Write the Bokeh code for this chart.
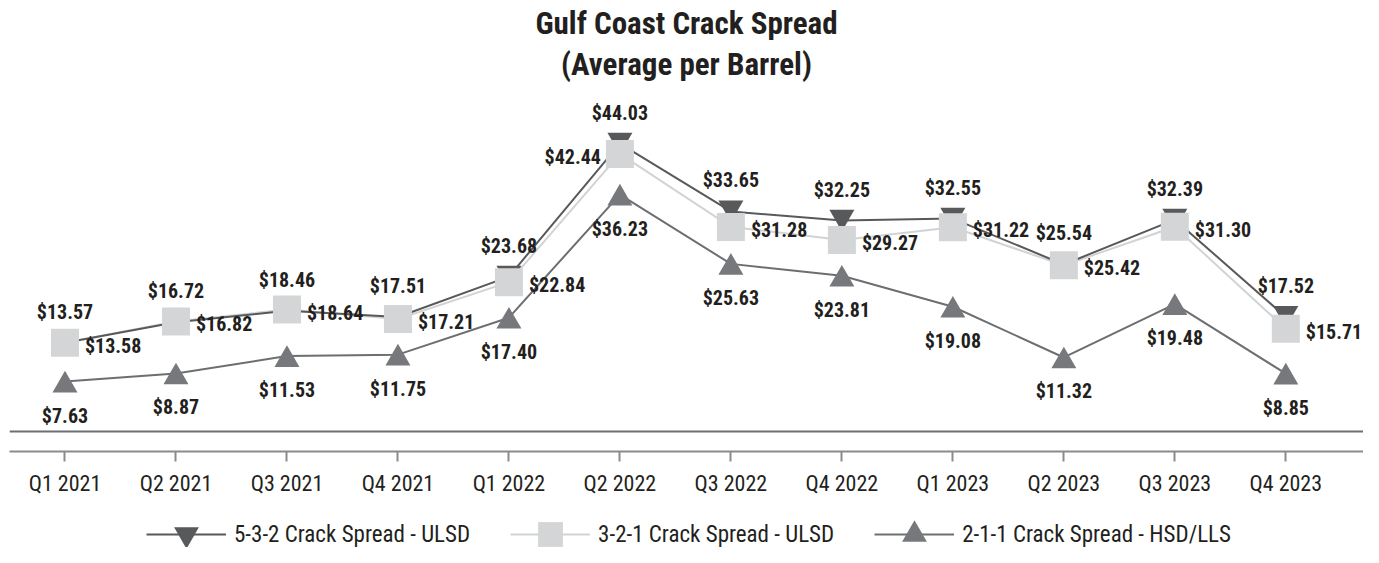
from bokeh.plotting import figure
from bokeh.layouts import column
from bokeh.models import (ColumnDataSource, Range1d, Span, Title, Legend, FixedTicker,
                          LegendItem, CDSView, IndexFilter)
from bokeh.core.properties import value
from bokeh.transform import dodge
from bokeh.embed import file_html
from bokeh.resources import INLINE

quarters = ["Q1 2021", "Q2 2021", "Q3 2021", "Q4 2021", "Q1 2022", "Q2 2022",
            "Q3 2022", "Q4 2022", "Q1 2023", "Q2 2023", "Q3 2023", "Q4 2023"]
crack_532 = [13.57, 16.72, 18.46, 17.51, 23.68, 44.03, 33.65, 32.25, 32.55, 25.54, 32.39, 17.52]
crack_321 = [13.58, 16.82, 18.64, 17.21, 22.84, 42.44, 31.28, 29.27, 31.22, 25.42, 31.30, 15.71]
crack_211 = [7.63, 8.87, 11.53, 11.75, 17.40, 36.23, 25.63, 23.81, 19.08, 11.32, 19.48, 8.85]
series_names = ["5-3-2 Crack Spread - ULSD", "3-2-1 Crack Spread - ULSD", "2-1-1 Crack Spread - HSD/LLS"]

FONT = "Roboto Condensed"
TXT = "#231f20"
C532 = "#58595b"
C321_M = "#d4d5d7"
C321_L = "#d1d3d4"
C211_M = "#77787b"
C211_L = "#6d6e71"

def fmt(v):
    return ["$%.2f" % x for x in v]

idx = list(range(len(quarters)))
src = ColumnDataSource(dict(x=idx, q=quarters, a=crack_532, b=crack_321, c=crack_211,
                            la=fmt(crack_532), lb=fmt(crack_321), lc=fmt(crack_211)))

PX = 6.54  # pixels per dollar
TRI = 25   # triangle marker size
TRI_SHIFT = TRI * 0.866 / 6 / PX  # centre the triangle's box on the point

p = figure(width=1363, height=500, output_backend="svg", toolbar_location=None,
           x_range=Range1d(-0.5, 11.7),
           y_range=Range1d(-20 / PX, 347 / PX), y_axis_location=None, title=None,
           min_border_left=9, min_border_right=0, min_border_top=84, min_border_bottom=49)
p.outline_line_color = None
p.xgrid.visible = False
p.ygrid.visible = False

tstyle = dict(align="center", text_font=FONT, text_font_size="31px", text_font_style="bold",
              text_color=TXT)
p.add_layout(Title(text="(Average per Barrel)", standoff=4, **tstyle), "above")
p.add_layout(Title(text="Gulf Coast Crack Spread", standoff=0, **tstyle), "above")

p.add_layout(Span(location=0, dimension="width", line_color="#6d6e71", line_width=2))

ax = p.xaxis[0]
ax.ticker = FixedTicker(ticks=idx)
ax.major_label_overrides = {i: q for i, q in zip(idx, quarters)}
ax.axis_line_color = "#8a8b8d"
ax.axis_line_width = 2
ax.major_tick_line_color = "#8a8b8d"
ax.major_tick_line_width = 2
ax.major_tick_out = 10
ax.major_tick_in = 0
ax.minor_tick_line_color = None
ax.major_label_text_font = FONT
ax.major_label_text_font_size = "22px"
ax.major_label_text_color = TXT
ax.major_label_standoff = 9

p.line("x", "b", source=src, line_color=C321_L, line_width=2)
p.line("x", "a", source=src, line_color=C532, line_width=2)
p.line("x", "c", source=src, line_color=C211_L, line_width=2)
p.scatter("x", dodge("a", TRI_SHIFT), source=src, marker="inverted_triangle", size=TRI,
          fill_color=C532, line_color=None)
p.scatter("x", "b", source=src, marker="square", size=28,
          fill_color=C321_M, line_color=None)
p.scatter("x", dodge("c", -TRI_SHIFT), source=src, marker="triangle", size=TRI,
          fill_color=C211_M, line_color=None)

lab = dict(text_font=value(FONT), text_font_size="20px", text_font_style="bold",
           text_color=TXT, text_baseline="middle")
p.text("x", "a", text="la", source=src, text_align="center", y_offset=-31, **lab)
p.text("x", "c", text="lc", source=src, text_align="center", y_offset=34, **lab)
left_side = [i for i, v in enumerate(crack_321) if v == max(crack_321)]
right_side = [i for i in idx if i not in left_side]
p.text("x", "b", text="lb", source=src, view=CDSView(filter=IndexFilter(right_side)),
       text_align="left", x_offset=20, y_offset=3, **lab)
p.text("x", "b", text="lb", source=src, view=CDSView(filter=IndexFilter(left_side)),
       text_align="right", x_offset=-19, y_offset=3, **lab)

# legend strip
p2 = figure(width=1363, height=47, output_backend="svg", toolbar_location=None,
            x_range=Range1d(-0.5, 11.7), y_range=Range1d(0, 1), x_axis_location=None,
            y_axis_location=None, title=None, min_border=0)
p2.outline_line_color = None
p2.xgrid.visible = False
p2.ygrid.visible = False
g1l = p2.line("x", "a", source=src, line_color=C532, line_width=2, visible=False)
g1m = p2.scatter("x", "a", source=src, marker="inverted_triangle", fill_color=C532,
                 line_color=None, visible=False)
g2l = p2.line("x", "b", source=src, line_color=C321_L, line_width=2, visible=False)
g2m = p2.scatter("x", "b", source=src, marker="square", fill_color=C321_M,
                 line_color=None, visible=False)
g3l = p2.line("x", "c", source=src, line_color=C211_L, line_width=2, visible=False)
g3m = p2.scatter("x", "c", source=src, marker="triangle", fill_color=C211_M,
                 line_color=None, visible=False)
legend = Legend(items=[LegendItem(label=series_names[0], renderers=[g1l, g1m]),
                       LegendItem(label=series_names[1], renderers=[g2l, g2m]),
                       LegendItem(label=series_names[2], renderers=[g3l, g3m])],
                orientation="horizontal", location=(137, -18),
                glyph_width=80, glyph_height=62, label_standoff=8, spacing=40,
                padding=0, margin=0, border_line_color=None, background_fill_alpha=0,
                inactive_fill_alpha=0, click_policy="none",
                label_text_font=FONT, label_text_font_size="23px", label_text_color=TXT)
p2.add_layout(legend)

layout = column(p, p2, spacing=0)
open("out.html", "w").write(file_html(layout, INLINE))
